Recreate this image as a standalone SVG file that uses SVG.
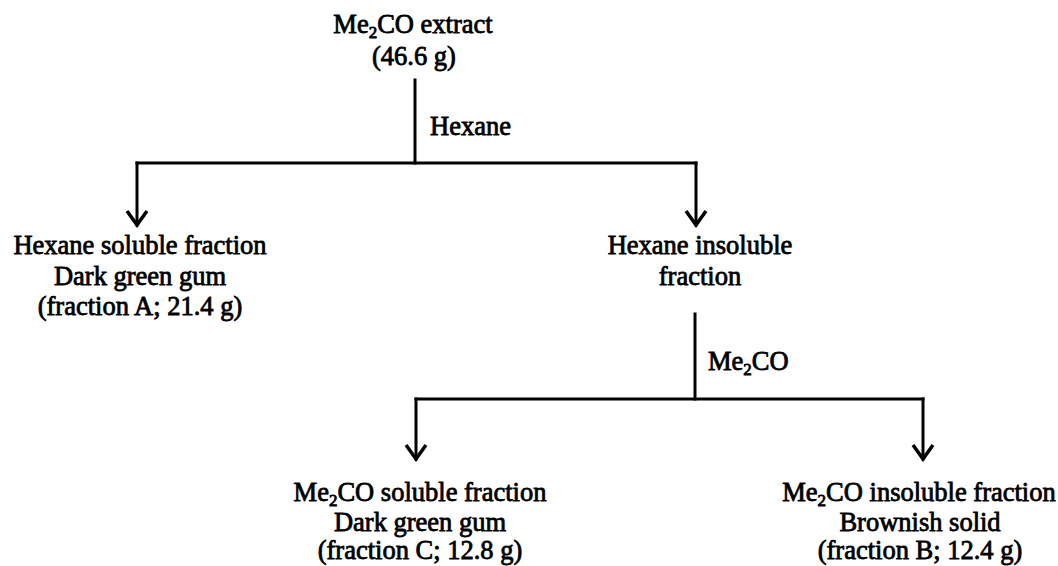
<svg xmlns="http://www.w3.org/2000/svg" width="1058" height="566" viewBox="0 0 1058 566">
  <style>
    text { font-family: "Liberation Serif", serif; font-size: 26.5px; font-weight: normal; fill: #000; stroke: #000; stroke-width: 0.8; }
    .mid { text-anchor: middle; }
    .sub { font-size: 17px; }
    .wire { fill: none; stroke: #000; stroke-width: 3; stroke-linecap: square; stroke-linejoin: miter; }
  </style>
  <defs>
    <marker id="arrow" markerUnits="userSpaceOnUse" markerWidth="30" markerHeight="30" refX="0" refY="0" orient="auto" overflow="visible">
      <path d="M-14,-10 L0,0 L-14,10" fill="none" stroke="#000" stroke-width="3.5" stroke-linejoin="miter"/>
    </marker>
  </defs>
  <rect width="1058" height="566" fill="#fff"/>

  <!-- connectors -->
  <g id="connectors">
    <g class="wire">
      <line x1="415" y1="80" x2="415" y2="163"/>
      <line x1="137" y1="163" x2="696" y2="163"/>
      <line x1="137" y1="163" x2="137" y2="225" marker-end="url(#arrow)"/>
      <line x1="696" y1="163" x2="696" y2="225" marker-end="url(#arrow)"/>
      <line x1="695" y1="314" x2="695" y2="399"/>
      <line x1="416" y1="399" x2="923" y2="399"/>
      <line x1="416" y1="399" x2="416" y2="459" marker-end="url(#arrow)"/>
      <line x1="923" y1="399" x2="923" y2="459" marker-end="url(#arrow)"/>
    </g>
    <text x="430" y="135">Hexane</text>
    <text x="708" y="370">Me<tspan class="sub" dy="5">2</tspan><tspan dy="-5">CO</tspan></text>
  </g>

  <g id="extract">
    <text class="mid" x="413" y="33">Me<tspan class="sub" dy="5">2</tspan><tspan dy="-5">CO extract</tspan></text>
    <text class="mid" x="414" y="65">(46.6 g)</text>
  </g>

  <g id="hexane-soluble">
    <text class="mid" x="140" y="254">Hexane soluble fraction</text>
    <text class="mid" x="140" y="285">Dark green gum</text>
    <text class="mid" x="140" y="315">(fraction A; 21.4 g)</text>
  </g>

  <g id="hexane-insoluble">
    <text class="mid" x="700" y="254">Hexane insoluble</text>
    <text class="mid" x="700" y="285">fraction</text>
  </g>

  <g id="me2co-soluble">
    <text class="mid" x="420" y="501">Me<tspan class="sub" dy="5">2</tspan><tspan dy="-5">CO soluble fraction</tspan></text>
    <text class="mid" x="420" y="531">Dark green gum</text>
    <text class="mid" x="420" y="559">(fraction C; 12.8 g)</text>
  </g>

  <g id="me2co-insoluble">
    <text class="mid" x="919" y="501">Me<tspan class="sub" dy="5">2</tspan><tspan dy="-5">CO insoluble fraction</tspan></text>
    <text class="mid" x="920" y="531">Brownish solid</text>
    <text class="mid" x="920" y="559">(fraction B; 12.4 g)</text>
  </g>
</svg>
